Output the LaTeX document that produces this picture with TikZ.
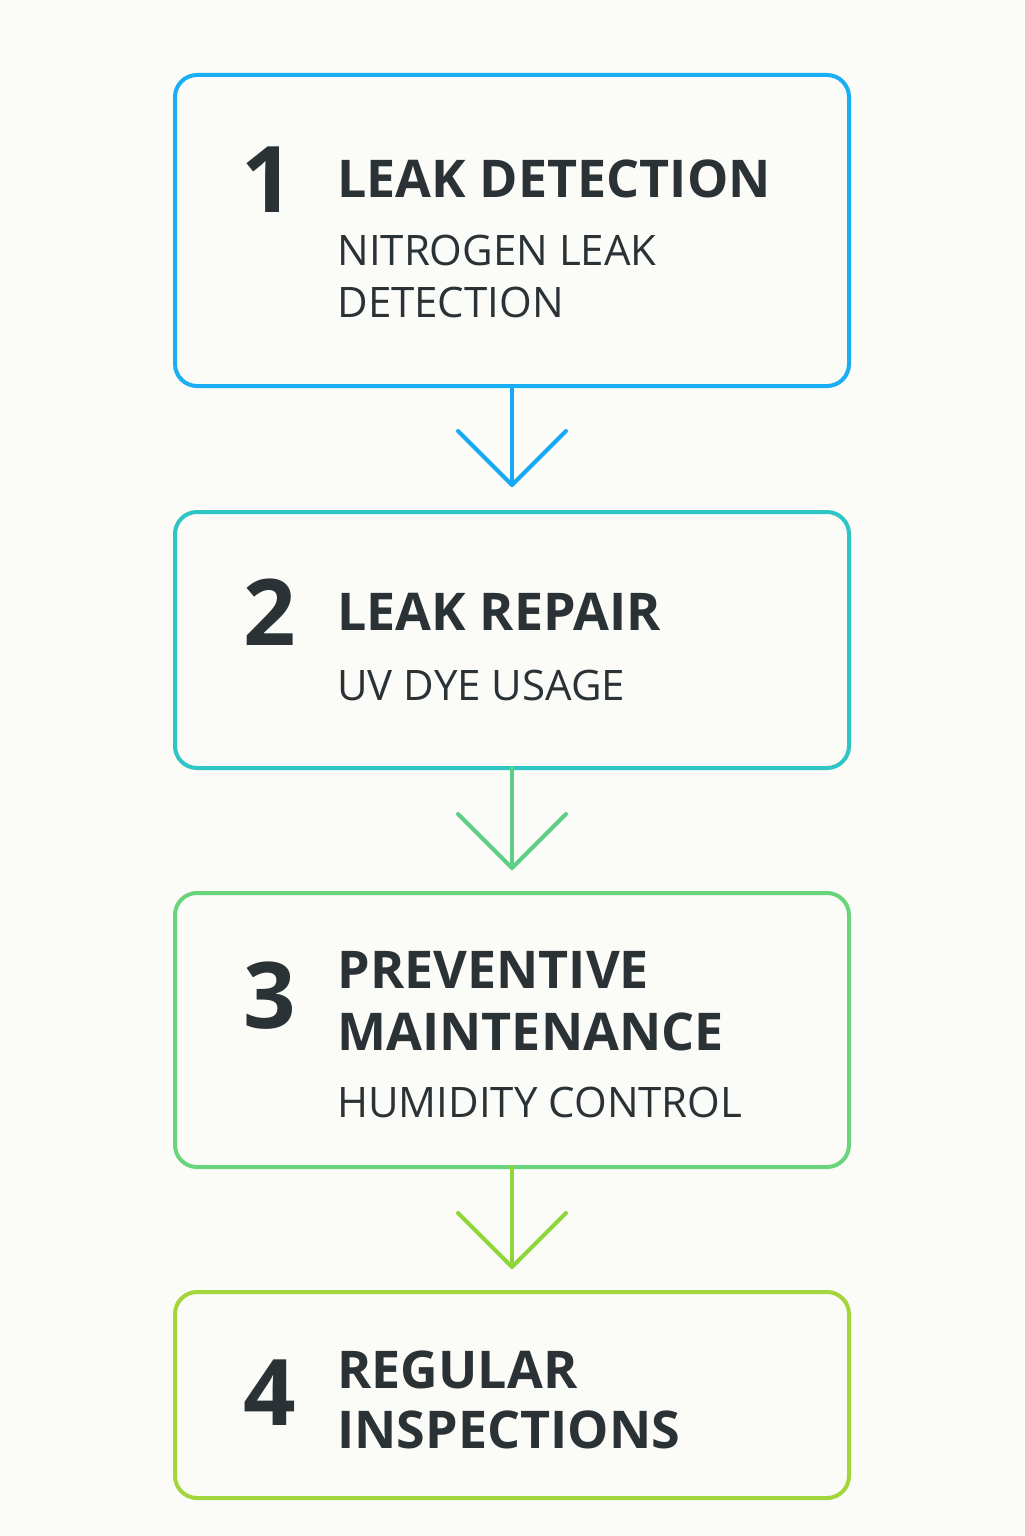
\documentclass[tikz,border=0pt]{standalone}
\usepackage{fontspec}
\setmainfont{Open Sans}
\begin{document}
\begin{tikzpicture}[x=0.5pt,y=-0.5pt,
  boxst/.style={line width=2pt,rounded corners=11pt},
  num/.style={anchor=base,font=\fontsize{46}{46}\selectfont\bfseries,text=txt,inner sep=0},
  ttl/.style={anchor=base west,font=\fontsize{26}{26}\selectfont\bfseries,text=txt,inner sep=0},
  sub/.style={anchor=base west,font=\fontsize{21}{21}\selectfont,text=txt,inner sep=0},
  arr/.style={line width=2pt,line cap=round}]
\definecolor{bg}{HTML}{FBFBF8}
\definecolor{txt}{HTML}{2A3236}
\definecolor{c1}{HTML}{1AAEF4}
\definecolor{c2}{HTML}{2EC6C4}
\definecolor{c3}{HTML}{6AD47C}
\definecolor{c4}{HTML}{A2D63A}
\definecolor{a1}{HTML}{16A9F5}
\definecolor{a2}{HTML}{5CCF84}
\definecolor{a3}{HTML}{8ED63C}
\fill[bg] (0,0) rectangle (1024,1536);
\useasboundingbox (0,0) rectangle (1024,1536);
\draw[boxst,draw=c1] (175,75) rectangle (849,386);
\draw[boxst,draw=c2] (175,512) rectangle (849,768);
\draw[boxst,draw=c3] (175,893) rectangle (849,1167);
\draw[boxst,draw=c4] (175,1292) rectangle (849,1498);
\coordinate (b1) at (512,386); \coordinate (t2) at (512,485);
\coordinate (b2) at (512,768); \coordinate (t3) at (512,868);
\coordinate (b3) at (512,1167); \coordinate (t4) at (512,1267);
\foreach \s/\e/\c in {b1/t2/a1,b2/t3/a2,b3/t4/a3}{
  \draw[arr,draw=\c] (\s) -- (\e);
  \draw[arr,draw=\c,line join=round] ([xshift=-27,yshift=27]\e) -- (\e) -- ([xshift=27,yshift=27]\e);
}
\node[num] (n1) at (268,212) {1};
\node[ttl] (h1) at (337,197) {LEAK DETECTION};
\node[sub] (s1a) at (337,265) {NITROGEN LEAK};
\node[sub] (s1b) at (337,317) {DETECTION};
\node[num] (n2) at (270,645) {2};
\node[ttl] (h2) at (337,630) {LEAK REPAIR};
\node[sub] (s2) at (337,700) {UV DYE USAGE};
\node[num] (n3) at (270,1028) {3};
\node[ttl] (h3a) at (337,988) {PREVENTIVE};
\node[ttl] (h3b) at (337,1050) {MAINTENANCE};
\node[sub] (s3) at (337,1117) {HUMIDITY CONTROL};
\node[num] (n4) at (270,1425) {4};
\node[ttl] (h4a) at (337,1388) {REGULAR};
\node[ttl] (h4b) at (337,1448) {INSPECTIONS};
\end{tikzpicture}
\end{document}
